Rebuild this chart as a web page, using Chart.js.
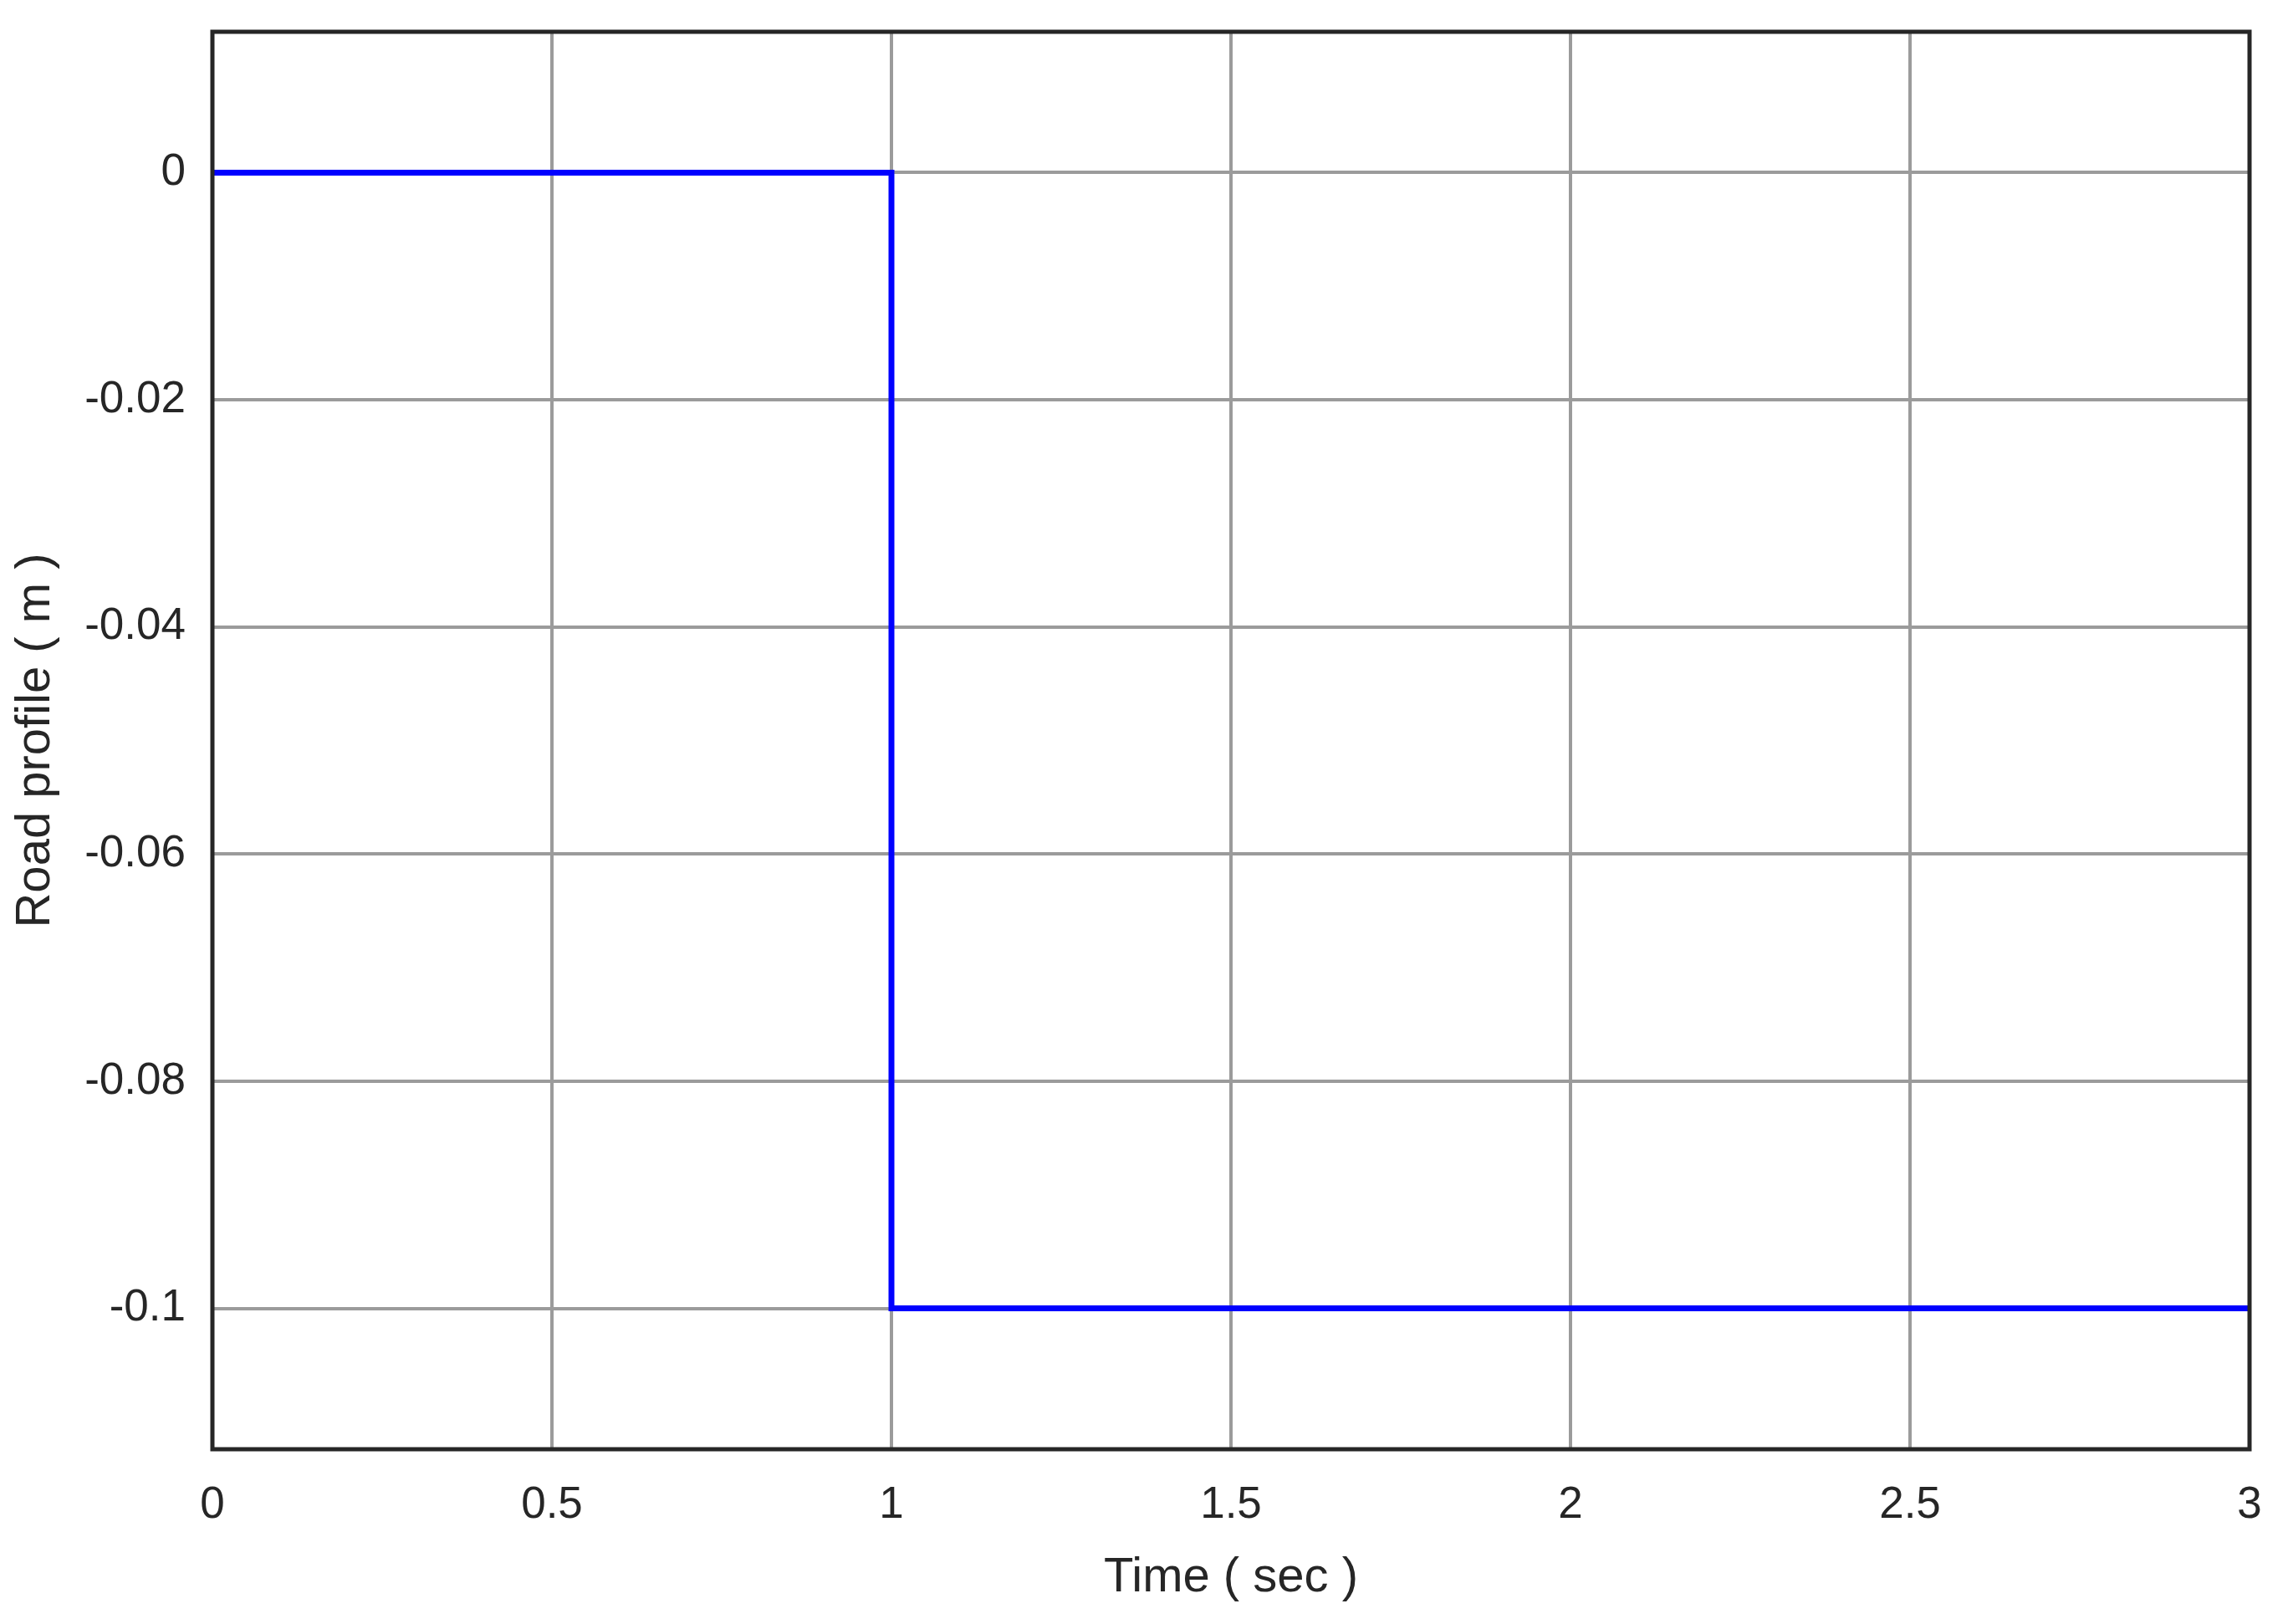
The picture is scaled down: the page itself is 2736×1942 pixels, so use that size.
<!DOCTYPE html>
<html>
<head>
<meta charset="utf-8">
<script src="https://cdn.jsdelivr.net/npm/chart.js@4/dist/chart.umd.min.js"></script>
<style>
  html, body { margin: 0; padding: 0; background: #ffffff; }
  canvas { display: block; }
</style>
</head>
<body>
<canvas id="c" width="2736" height="1942"></canvas>
<script>
// ---- data ----
const timeSec = [0, 1, 1, 3];
const roadProfile = [0, 0, -0.1, -0.1];
const xTicks = [0, 0.5, 1, 1.5, 2, 2.5, 3];
const yTicks = [-0.1, -0.08, -0.06, -0.04, -0.02, 0];
const xTitle = 'Time ( sec )';
const yTitle = 'Road profile ( m )';

const FONT = '"Liberation Sans", Arial, Helvetica, sans-serif';
const INK = '#262626';

const framePlugin = {
  id: 'frame',
  afterDraw(chart) {
    const a = chart.chartArea;
    const ctx = chart.ctx;
    ctx.save();
    ctx.strokeStyle = INK;
    ctx.lineWidth = 5;
    ctx.strokeRect(a.left, a.top, a.right - a.left, a.bottom - a.top);
    ctx.restore();
  }
};

new Chart(document.getElementById('c'), {
  type: 'line',
  data: {
    datasets: [{
      data: timeSec.map((t, i) => ({ x: t, y: roadProfile[i] })),
      borderColor: '#0000ff',
      borderWidth: 7,
      pointRadius: 0,
      tension: 0,
      fill: false
    }]
  },
  options: {
    responsive: false,
    animation: false,
    devicePixelRatio: 1,
    layout: { padding: { top: 38, right: 46, left: 0, bottom: 0 } },
    plugins: { legend: { display: false }, tooltip: { enabled: false } },
    scales: {
      x: {
        type: 'linear',
        min: 0,
        max: 3,
        afterFit(s) { s.height = 209; s.paddingLeft = 0; s.paddingRight = 0; },
        afterBuildTicks(s) { s.ticks = xTicks.map(v => ({ value: v })); },
        grid: { color: 'rgb(155,155,155)', lineWidth: 4, drawTicks: false },
        border: { display: false },
        ticks: {
          padding: 36,
          color: INK,
          font: { family: FONT, size: 53 },
          maxRotation: 0,
          autoSkip: false,
          callback: v => String(v)
        },
        title: {
          display: true,
          text: xTitle,
          color: INK,
          font: { family: FONT, size: 58 },
          padding: { top: 0, bottom: 20 }
        }
      },
      y: {
        type: 'linear',
        min: -0.1124,
        max: 0.0124,
        afterFit(s) { s.width = 254; s.paddingTop = 0; s.paddingBottom = 0; },
        afterBuildTicks(s) { s.ticks = yTicks.map(v => ({ value: v })); },
        grid: { color: 'rgb(155,155,155)', lineWidth: 4, drawTicks: false },
        border: { display: false },
        ticks: {
          padding: 32,
          color: INK,
          font: { family: FONT, size: 53 },
          autoSkip: false,
          callback: v => String(v)
        },
        title: {
          display: true,
          text: yTitle,
          color: INK,
          font: { family: FONT, size: 58 },
          padding: { top: 8, bottom: 0 }
        }
      }
    }
  },
  plugins: [framePlugin]
});
</script>
</body>
</html>
